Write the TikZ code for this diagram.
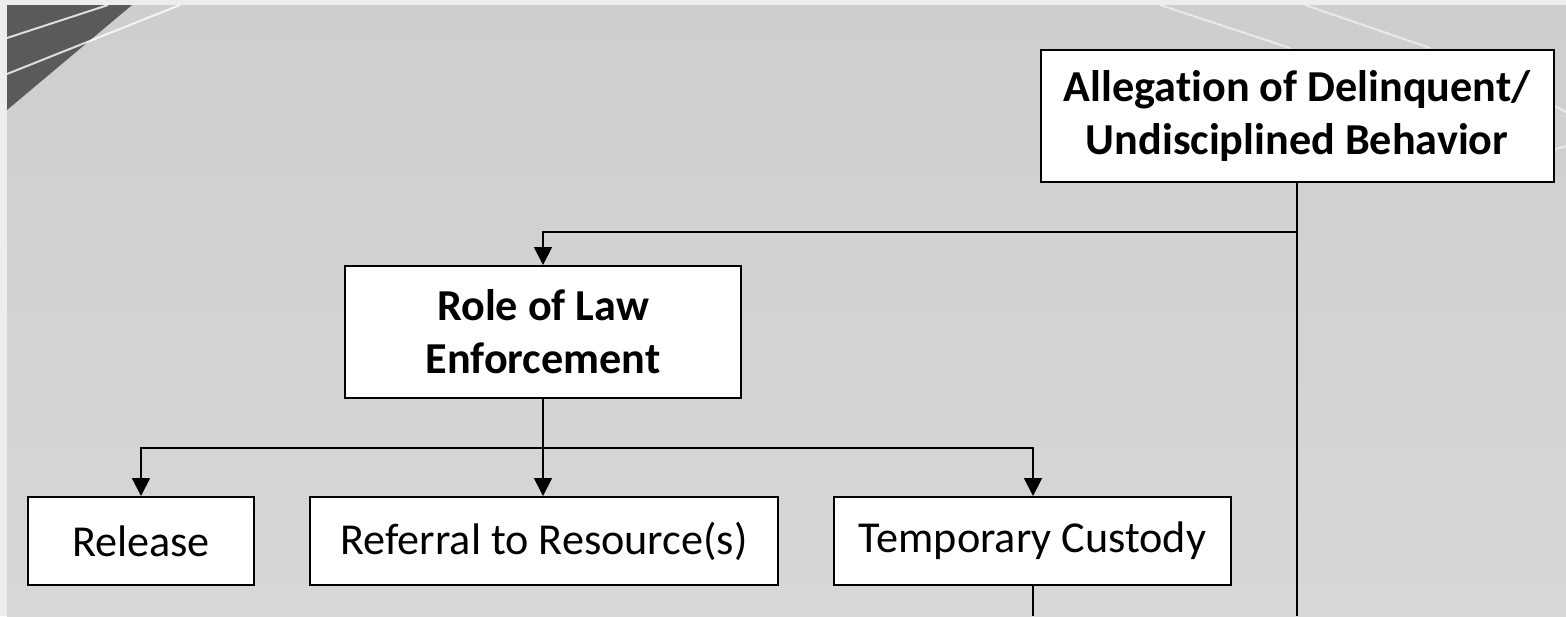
\documentclass[tikz,border=0pt]{standalone}
\usepackage{fontspec}
\setmainfont{Carlito}[Ligatures=NoCommon]
\usepackage{tikz}
\usetikzlibrary{arrows.meta}

\definecolor{pagegray}{HTML}{EDEDED}
\definecolor{slidetop}{HTML}{CECECE}
\definecolor{slidebot}{HTML}{D7D7D7}
\definecolor{wedge}{HTML}{5A5A5A}

\begin{document}
\begin{tikzpicture}[
  x=0.5pt, y=-0.5pt,
  >={Triangle[width=9pt,length=9pt]},
  every node/.style={font=\fontsize{22.1}{26.5}\selectfont},
  stepbox/.style={rectangle, draw, line width=1pt, fill=white, align=center,
    inner sep=2pt},
  headbox/.style={stepbox, font=\fontsize{22.1}{26.5}\selectfont\bfseries},
  link/.style={line width=0.9pt},
  streak/.style={white, opacity=0.55, line width=1pt}
]
  % slide background
  \useasboundingbox (0,0) rectangle (1566,616);
  \fill[pagegray] (0,0) rectangle (1566,616);
  \shade[top color=slidetop, bottom color=slidebot] (7,5) rectangle (1566,616);
  \fill[wedge] (7,5) -- (132,5) -- (7,110) -- cycle;
  \draw[streak, opacity=0.8] (7,38) -- (108,5);
  \draw[streak, opacity=0.8] (7,74) -- (180,5);
  \draw[streak] (1160,5) -- (1290,48);
  \draw[streak] (1305,5) -- (1430,48);
  \draw[streak] (1553,150) -- (1566,146);
  \draw[streak] (1553,105) -- (1566,112);

  \node[headbox, minimum width=256.5pt, minimum height=66pt] (alleg) at (1297,116)
    {Allegation of Delinquent/\\Undisciplined Behavior};
  \node[headbox, minimum width=198pt, minimum height=66pt] (role) at (543,332)
    {Role of Law\\Enforcement};
  \node[stepbox, minimum width=113pt, minimum height=44pt] (release) at (141,541) {Release};
  \node[stepbox, minimum width=234pt, minimum height=44pt] (referral) at (544,541)
    {Referral to Resource(s)};
  \node[stepbox, minimum width=198.5pt, minimum height=44pt] (custody) at (1032.5,541)
    {Temporary Custody};

  \coordinate (bend) at (543,232);
  \coordinate (fork) at (543,448);
  \coordinate (exitR) at (1297,616);
  \coordinate (exitT) at (1033,616);

  \draw[link] (alleg.south) -- (exitR);
  \draw[link, ->] (alleg.south) |- (bend) -- (role.north);
  \draw[link] (role.south) -- (fork);
  \draw[link, ->] (fork) -| (release.north);
  \draw[link, ->] (fork) -- (fork |- referral.north);
  \draw[link, ->] (fork) -| (exitT |- custody.north);
  \draw[link] (custody.south -| exitT) -- (exitT);
\end{tikzpicture}
\end{document}
